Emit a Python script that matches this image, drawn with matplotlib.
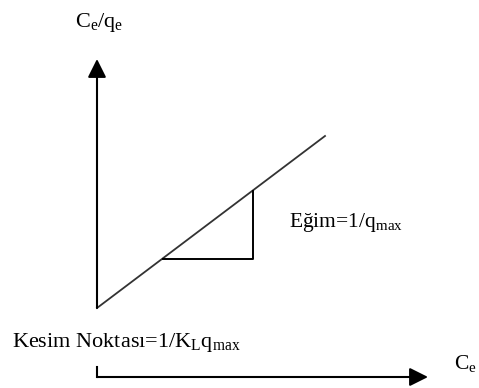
import numpy as np
import matplotlib
matplotlib.use('Agg')
import matplotlib.pyplot as plt

plt.rcParams['font.family'] = 'Liberation Serif'
plt.rcParams['mathtext.fontset'] = 'custom'
plt.rcParams['mathtext.rm'] = 'Liberation Serif'
plt.rcParams['mathtext.it'] = 'Liberation Serif'

# schematic geometry (picture coordinates, y grows downward)
line_x = [97, 325]
line_y = [308, 136]
tri_x = [163, 253, 253]
tri_y = [259, 259, 191]

ylabel = r'C$_\mathrm{e}$/q$_\mathrm{e}$'
xlabel = r'C$_\mathrm{e}$'
slope_label = r'Eğim=1/q$_\mathrm{max}$'
intercept_label = r'Kesim Noktası=1/K$_\mathrm{L}$q$_\mathrm{max}$'

fig = plt.figure(figsize=(4.79, 3.88), dpi=100)
ax = fig.add_axes([0, 0, 1, 1])
ax.set_xlim(0, 479)
ax.set_ylim(388, 0)
ax.axis('off')

arrow = dict(arrowstyle='-|>', color='black', lw=1.5,
             mutation_scale=28, shrinkA=0, shrinkB=0)

# y axis with arrow
ax.annotate('', xy=(97, 59), xytext=(97, 308), arrowprops=arrow)
# x axis with arrow and little tick at start
ax.plot([97, 97], [367, 377], color='black', lw=1.5)
ax.annotate('', xy=(428, 377), xytext=(97, 377), arrowprops=arrow)

# linear fit line and slope triangle
ax.plot(line_x, line_y, color='#333333', lw=1.3)
ax.plot(tri_x, tri_y, color='black', lw=1.4)

ax.text(75, 22, ylabel, fontsize=16, ha='left', va='center')
ax.text(454, 363, xlabel, fontsize=15.5, ha='left', va='center')
ax.text(289, 222, slope_label, fontsize=15.5, ha='left', va='center')
ax.text(12, 342, intercept_label, fontsize=16, ha='left', va='center')

plt.savefig('out.png', dpi=100)
